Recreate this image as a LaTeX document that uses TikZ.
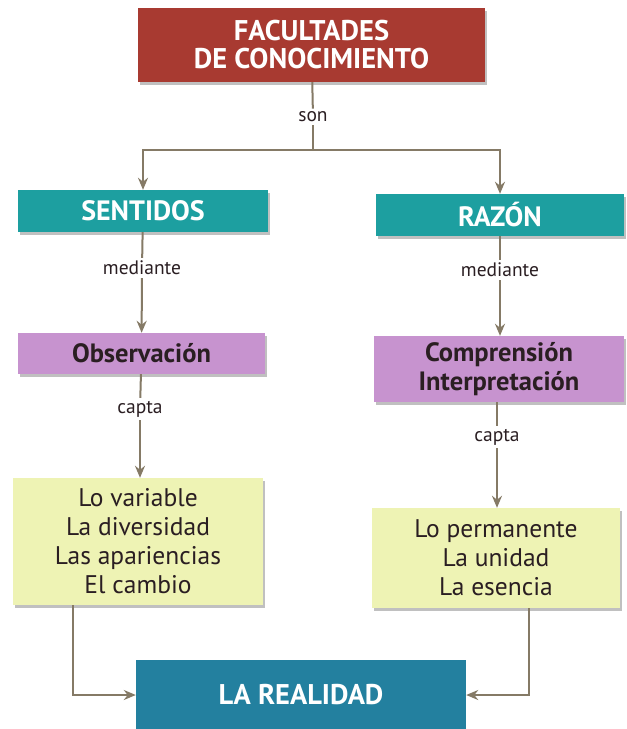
\documentclass[tikz,border=0pt]{standalone}
\usepackage{fontspec}
\setmainfont{PT Sans}
\usetikzlibrary{arrows.meta,shadows}
\definecolor{cred}{HTML}{A83A31}
\definecolor{cteal}{HTML}{1D9FA0}
\definecolor{cpurple}{HTML}{C793CF}
\definecolor{cyellow}{HTML}{EEF3B4}
\definecolor{cblue}{HTML}{23809F}
\definecolor{carrow}{HTML}{857A66}
\definecolor{ctext}{HTML}{2A1E22}
\tikzset{
  boxbase/.style={rectangle, inner sep=0pt, align=center,
    drop shadow={shadow xshift=2pt, shadow yshift=-3pt, opacity=0.35, fill=black!70}},
  redbox/.style={boxbase, fill=cred, text=white, font=\bfseries\fontsize{28.5}{28}\selectfont},
  tealbox/.style={boxbase, fill=cteal, text=white, font=\bfseries\fontsize{28}{28}\selectfont},
  purplebox/.style={boxbase, fill=cpurple, text=ctext, font=\bfseries\fontsize{26.5}{29}\selectfont},
  yellowbox/.style={boxbase, fill=cyellow, text=ctext, font=\fontsize{25.5}{29}\selectfont},
  bluebox/.style={rectangle, inner sep=0pt, fill=cblue, text=white, font=\bfseries\fontsize{28.5}{28}\selectfont},
  lbl/.style={inner sep=3pt, text=ctext, font=\fontsize{19.5}{20}\selectfont},
  conn/.style={draw=carrow, line width=2pt},
  arr/.style={conn, -{Stealth[length=12pt,width=10pt]}},
}
\begin{document}
\begin{tikzpicture}[x=1pt,y=-1pt]
\useasboundingbox (0,0) rectangle (627,729);
\fill[white] (0,0) rectangle (627,729);

\node[redbox, minimum width=347pt, minimum height=74pt] (top) at (311.5,45) {FACULTADES\\DE CONOCIMIENTO};
\node[lbl] (son) at (313,117) {son};
\coordinate (j) at (313,150);

\node[tealbox, minimum width=250pt, minimum height=42pt] (sent) at (143,211) {SENTIDOS};
\node[tealbox, minimum width=248pt, minimum height=42pt] (razon) at (500,215) {RAZÓN};

\node[lbl] (med1) at (142,268) {mediante};
\node[lbl] (med2) at (500,270) {mediante};

\node[purplebox, minimum width=247pt, minimum height=41pt] (obs) at (141.5,353.5) {Observación};
\node[purplebox, minimum width=250pt, minimum height=66pt] (comp) at (499,369) {Comprensión\\Interpretación};

\node[lbl] (cap1) at (140,409) {capta};
\node[lbl] (cap2) at (497,437) {capta};

\node[yellowbox, minimum width=250pt, minimum height=127pt] (yl) at (138,541.5) {Lo variable\\La diversidad\\Las apariencias\\El cambio};
\node[yellowbox, minimum width=248pt, minimum height=100pt] (yr) at (496,558) {Lo permanente\\La unidad\\La esencia};

\node[bluebox, minimum width=330pt, minimum height=70pt] (real) at (301,695) {LA REALIDAD};

% connectors
\draw[conn] (top) -- (son);
\draw[conn] (son) -- (j);
\draw[arr] (j) -| (sent.north);
\draw[arr] (j) -| (razon.north);

\draw[conn] (sent) -- (med1);
\draw[arr] (med1) -- (obs);
\draw[conn] (obs) -- (cap1);
\draw[arr] (cap1) -- (yl.north -| cap1);

\draw[conn] (razon) -- (med2);
\draw[arr] (med2) -- (comp.north -| med2);
\draw[conn] (comp.south -| cap2) -- (cap2);
\draw[arr] (cap2) -- (yr.north -| cap2);

\draw[arr] ([xshift=-65pt]yl.south) |- (real.west);
\draw[arr] ([xshift=33pt]yr.south) |- (real.east);
\end{tikzpicture}
\end{document}
